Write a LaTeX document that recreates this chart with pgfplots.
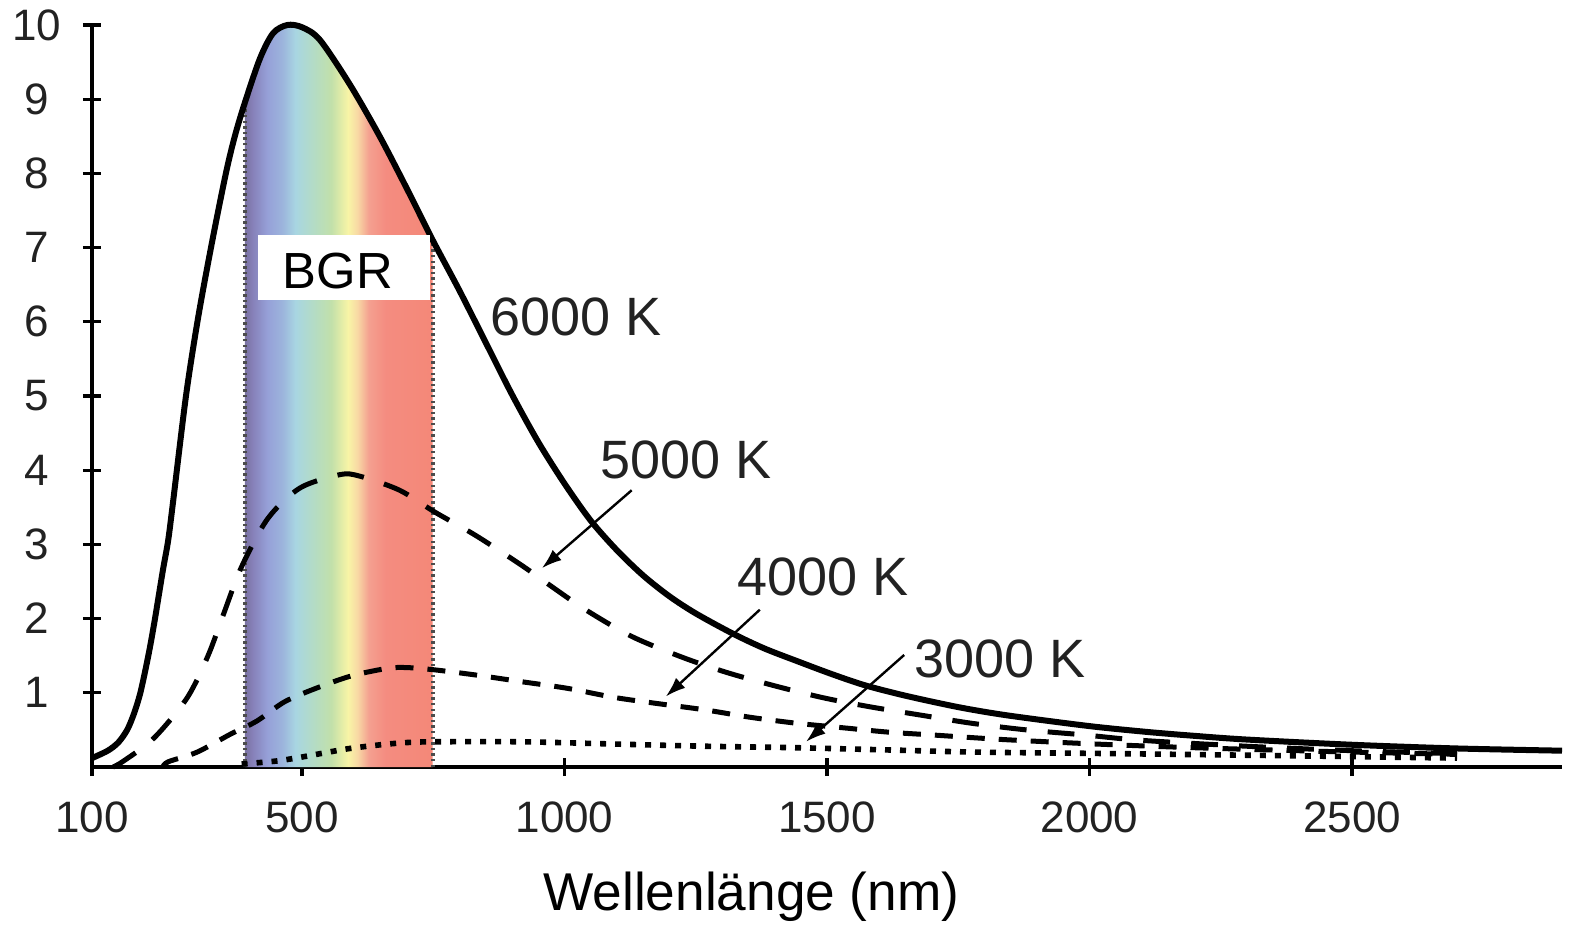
\documentclass[border=0pt]{standalone}
\usepackage{pgfplots}
\pgfplotsset{compat=1.18}
\usepackage{fontspec}
\setmainfont{Liberation Sans}
\usetikzlibrary{arrows.meta}

\definecolor{s0}{HTML}{7A72A2}
\definecolor{s1}{HTML}{8680B8}
\definecolor{s2}{HTML}{96A0D8}
\definecolor{s3}{HTML}{9CB4DC}
\definecolor{s4}{HTML}{A8D6E2}
\definecolor{s5}{HTML}{B4DCC4}
\definecolor{s6}{HTML}{C2E0AA}
\definecolor{s7}{HTML}{F8F4A6}
\definecolor{s8}{HTML}{F8D8A4}
\definecolor{s9}{HTML}{F4A090}
\definecolor{s10}{HTML}{F48C80}
\definecolor{s11}{HTML}{F48878}
\definecolor{txt}{HTML}{222222}

\pgfdeclarehorizontalshading{spectrum}{100bp}{
 color(0bp)=(s0); color(25bp)=(s0); color(27bp)=(s1); color(31bp)=(s2);
 color(35bp)=(s3); color(38.5bp)=(s4); color(43.5bp)=(s5); color(48bp)=(s6);
 color(52.5bp)=(s7); color(55bp)=(s8); color(58bp)=(s9); color(62.5bp)=(s10);
 color(75bp)=(s11); color(100bp)=(s11)}

\pgfplotstableread{
x y
100 0.12
130 0.22
150 0.33
167 0.5
180 0.72
191 0.97
200 1.25
210 1.6
220 2.0
235 2.65
245 3.05
254 3.55
279 5.0
302 6.05
328 7.05
355 8.0
372 8.5
391 8.95
420 9.55
445 9.89
472 10.0
500 9.97
534 9.8
591 9.2
648 8.5
703 7.75
749 7.1
800 6.42
850 5.72
900 5.02
950 4.38
1000 3.82
1050 3.32
1100 2.92
1150 2.58
1200 2.30
1250 2.07
1320 1.80
1380 1.60
1442 1.43
1510 1.25
1573 1.10
1650 0.96
1748 0.81
1830 0.71
1923 0.62
2014 0.54
2114 0.47
2200 0.42
2300 0.37
2500 0.30
2700 0.25
2900 0.22
}\tsixk

\pgfplotstableread{
x y
391 8.95
420 9.55
445 9.89
472 10.0
500 9.97
534 9.8
591 9.2
648 8.5
703 7.75
749 7.1
}\tband

\pgfplotstableread{
x y
140 0.0
160 0.08
218 0.39
281 0.93
321 1.5
350 2.05
385 2.7
435 3.35
496 3.76
572 3.94
610 3.92
686 3.73
752 3.44
831 3.12
918 2.72
970 2.46
1040 2.12
1128 1.76
1224 1.48
1311 1.27
1408 1.08
1495 0.93
1583 0.81
1678 0.70
1775 0.59
1880 0.50
1994 0.43
2098 0.36
2300 0.28
2500 0.22
2700 0.18
}\tfivek

\pgfplotstableread{
x y
235 0.0
245 0.07
300 0.2
363 0.44
414 0.62
467 0.88
530 1.07
595 1.23
663 1.33
700 1.34
752 1.31
831 1.24
918 1.15
1006 1.06
1093 0.94
1172 0.86
1268 0.77
1354 0.67
1442 0.59
1529 0.53
1617 0.47
1705 0.43
1836 0.37
2011 0.31
2200 0.26
2450 0.21
2700 0.17
}\tfourk

\pgfplotstableread{
x y
385 0.04
450 0.08
496 0.13
550 0.2
591 0.25
650 0.3
700 0.33
752 0.34
918 0.34
1093 0.31
1268 0.28
1442 0.26
1617 0.23
1792 0.20
2055 0.18
2400 0.15
2700 0.12
}\tthreek

\begin{document}
\begin{tikzpicture}
\begin{axis}[
  at={(0,0)}, anchor=south west,
  scale only axis, width=367.5pt, height=185.5pt,
  xmin=100, xmax=2900, ymin=0, ymax=10,
  axis lines=left,
  axis line style={-, line width=0.8pt, black},
  xtick={100,500,1000,1500,2000,2500},
  ytick={1,2,3,4,5,6,7,8,9,10},
  tick align=center, major tick length=4.5pt,
  tick style={line width=0.8pt, black},
  minor tick num=0,
  tick label style={font=\fontsize{11}{13}\selectfont, text=txt},
  /pgf/number format/assume math mode=true,
  /pgf/number format/1000 sep={},
  yticklabel style={anchor=center, xshift=-11.5pt},
  xticklabel style={yshift=-3pt},
  clip=false,
]
% spectrum band
\addplot[draw=none, shade, shading=spectrum] table[x=x,y=y] {\tband} \closedcycle;
\addplot[gray!60!black, line width=1pt, dash pattern=on 0.6pt off 0.8pt] coordinates {(391,0) (391,8.95)};
\addplot[gray!60!black, line width=1pt, dash pattern=on 0.6pt off 0.8pt] coordinates {(749,0) (749,7.1)};

% curves
\addplot[black, line width=1.5pt, smooth] table[x=x,y=y] {\tsixk};
\addplot[black, line width=1.25pt, smooth, dash pattern=on 6.7pt off 5.3pt] table[x=x,y=y] {\tfivek};
\addplot[black, line width=1.25pt, smooth, dash pattern=on 4.5pt off 3.5pt] table[x=x,y=y] {\tfourk};
\addplot[black, line width=1.4pt, smooth, dash pattern=on 1.5pt off 2.25pt] table[x=x,y=y] {\tthreek};

% BGR box
\fill[white] (axis cs:416,6.29) rectangle (axis cs:743.3,7.17);
\node[anchor=base west, inner sep=0pt, font=\fontsize{12.7}{15}\selectfont, text=black] at (axis cs:461.6,6.455) {BGR};

% labels
\node[anchor=base west, inner sep=0pt, font=\fontsize{13.5}{16}\selectfont, text=txt] at (axis cs:857.5,5.82) {6000 K};
\node[anchor=base west, inner sep=0pt, font=\fontsize{13.5}{16}\selectfont, text=txt] at (axis cs:1067,3.895) {5000 K};
\node[anchor=base west, inner sep=0pt, font=\fontsize{13.5}{16}\selectfont, text=txt] at (axis cs:1327.6,2.318) {4000 K};
\node[anchor=base west, inner sep=0pt, font=\fontsize{13.5}{16}\selectfont, text=txt] at (axis cs:1664.5,1.213) {3000 K};

% arrows
\draw[line width=0.6pt, -{Latex[length=5pt, width=3.4pt]}] (axis cs:1128,3.73) -- (axis cs:957,2.68);
\draw[line width=0.6pt, -{Latex[length=5pt, width=3.4pt]}] (axis cs:1372,2.12) -- (axis cs:1193,0.95);
\draw[line width=0.6pt, -{Latex[length=5pt, width=3.4pt]}] (axis cs:1647,1.51) -- (axis cs:1460,0.34);

% x label
\node[anchor=base, inner sep=0pt, font=\fontsize{13.3}{16}\selectfont, text=black] at (axis cs:1356,-1.93) {Wellenlänge (nm)};
\end{axis}
\pgfresetboundingbox
\path[use as bounding box] (-23pt,-39.5pt) rectangle (370.25pt,191.75pt);
\end{tikzpicture}
\end{document}
